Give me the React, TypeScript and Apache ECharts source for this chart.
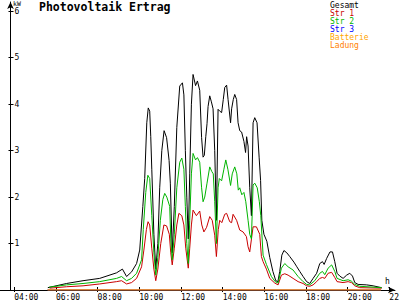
import { useEffect, useRef } from "react";
import * as echarts from "echarts";

const FONT = "DejaVu Sans Mono";

const tickHours = [4, 6, 8, 10, 12, 14, 16, 18, 20, 22];
const yTicks = [1, 2, 3, 4, 5, 6];
const seriesNames = ["Gesamt", "Str 1", "Str 2", "Str 3", "Batterie", "Ladung"];
const seriesColors = ["#000000", "#c80000", "#00b400", "#0000ff", "#ffa500", "#ff8000"];

// [hour of day, kW]
const gesamt: [number, number][] = [
  [5.61, 0.05], [6.51, 0.14], [7.3, 0.2], [8.1, 0.25], [8.91, 0.37], [9.19, 0.45], [9.39, 0.29],
  [9.63, 0.39], [9.87, 0.57], [10.02, 0.86], [10.17, 1.8], [10.26, 2.4], [10.36, 3.6], [10.43, 3.92],
  [10.5, 3.85], [10.55, 3.3], [10.6, 2.6], [10.7, 1.2], [10.79, 0.45], [10.89, 1.0], [10.98, 2.2],
  [11.08, 3.0], [11.19, 3.43], [11.31, 3.28], [11.43, 2.79], [11.49, 2.3], [11.58, 0.8], [11.68, 1.8],
  [11.8, 3.5], [11.94, 4.39], [12.07, 4.46], [12.14, 4.2], [12.21, 3.0], [12.28, 2.0], [12.35, 1.1],
  [12.42, 2.5], [12.5, 4.0], [12.58, 4.64], [12.7, 4.4], [12.79, 4.5], [12.9, 4.3], [12.99, 3.28],
  [13.06, 2.86], [13.12, 2.9], [13.19, 3.3], [13.25, 3.58], [13.3, 3.95], [13.38, 4.18], [13.46, 4.05],
  [13.54, 3.9], [13.62, 3.0], [13.7, 1.5], [13.78, 3.89], [13.86, 3.85], [13.95, 3.82], [14.03, 4.1],
  [14.1, 4.36], [14.19, 4.41], [14.26, 4.1], [14.38, 3.6], [14.43, 3.9], [14.51, 4.1], [14.58, 4.21],
  [14.67, 4.1], [14.74, 3.6], [14.82, 3.43], [14.91, 3.4], [15.02, 3.2], [15.1, 2.96], [15.15, 3.3],
  [15.22, 3.1], [15.3, 2.2], [15.38, 1.6], [15.46, 3.6], [15.54, 3.71], [15.65, 3.6], [15.75, 2.86],
  [15.82, 2.36], [15.88, 1.5], [15.98, 1.2], [16.12, 1.05], [16.26, 0.7], [16.41, 0.4], [16.55, 0.2],
  [16.65, 0.18], [16.74, 0.4], [16.84, 0.75], [16.94, 0.85], [17.08, 0.8], [17.22, 0.72], [17.42, 0.6],
  [17.56, 0.5], [17.7, 0.4], [17.86, 0.29], [18.03, 0.18], [18.18, 0.14], [18.34, 0.25], [18.51, 0.36],
  [18.66, 0.57], [18.79, 0.61], [18.87, 0.55], [18.99, 0.68], [19.15, 0.82], [19.27, 0.82], [19.38, 0.61],
  [19.49, 0.36], [19.62, 0.3], [19.78, 0.25], [19.95, 0.32], [20.1, 0.36], [20.23, 0.3], [20.34, 0.16],
  [20.5, 0.12], [20.91, 0.11], [21.22, 0.09], [21.63, 0.05],
];

const str1: [number, number][] = [
  [5.7, 0.04], [6.51, 0.07], [7.3, 0.09], [8.1, 0.13], [8.91, 0.18], [9.15, 0.2], [9.39, 0.13],
  [9.63, 0.16], [9.87, 0.25], [10.11, 0.5], [10.22, 0.86], [10.34, 1.3], [10.42, 1.47], [10.5, 1.4],
  [10.6, 0.9], [10.7, 0.45], [10.79, 0.2], [10.89, 0.45], [11.03, 1.0], [11.18, 1.4], [11.31, 1.38],
  [11.44, 1.2], [11.51, 0.8], [11.58, 0.54], [11.68, 0.9], [11.8, 1.4], [11.9, 1.65], [12.04, 1.6],
  [12.14, 1.4], [12.23, 0.9], [12.35, 0.47], [12.42, 0.9], [12.5, 1.4], [12.58, 1.72], [12.74, 1.6],
  [12.9, 1.7], [13.0, 1.4], [13.1, 1.25], [13.23, 1.35], [13.38, 1.58], [13.5, 1.5], [13.62, 1.18],
  [13.7, 0.72], [13.79, 1.3], [13.86, 1.5], [13.96, 1.45], [14.1, 1.63], [14.19, 1.65], [14.34, 1.47],
  [14.43, 1.45], [14.5, 1.63], [14.67, 1.5], [14.82, 1.29], [14.98, 1.25], [15.14, 1.15], [15.22, 0.93],
  [15.3, 0.82], [15.46, 1.36], [15.62, 1.36], [15.78, 1.2], [15.86, 0.72], [15.94, 0.61], [16.1, 0.45],
  [16.26, 0.25], [16.5, 0.15], [16.66, 0.11], [16.82, 0.32], [16.98, 0.35], [17.14, 0.32], [17.38, 0.25],
  [17.62, 0.18], [17.86, 0.14], [18.03, 0.09], [18.18, 0.08], [18.34, 0.11], [18.51, 0.18], [18.66, 0.25],
  [18.79, 0.27], [18.9, 0.25], [19.06, 0.36], [19.23, 0.38], [19.38, 0.27], [19.49, 0.18], [19.78, 0.16],
  [20.02, 0.18], [20.18, 0.16], [20.34, 0.09], [20.58, 0.05], [21.63, 0.04],
];

const str2: [number, number][] = [
  [5.67, 0.06], [6.51, 0.11], [7.3, 0.14], [8.1, 0.18], [8.91, 0.25], [9.15, 0.29], [9.39, 0.2],
  [9.63, 0.25], [9.87, 0.36], [10.11, 0.65], [10.19, 1.3], [10.31, 2.1], [10.41, 2.47], [10.5, 2.4],
  [10.6, 1.6], [10.7, 0.8], [10.79, 0.32], [10.89, 0.7], [11.01, 1.5], [11.13, 1.95], [11.22, 2.08],
  [11.32, 2.0], [11.46, 1.8], [11.51, 1.1], [11.58, 0.65], [11.68, 1.2], [11.8, 2.2], [11.94, 2.75],
  [12.04, 2.84], [12.14, 2.6], [12.21, 1.8], [12.28, 1.0], [12.35, 0.57], [12.42, 1.5], [12.5, 2.5],
  [12.58, 2.94], [12.7, 2.8], [12.79, 2.85], [12.9, 2.75], [12.99, 2.2], [13.06, 1.9], [13.14, 2.0],
  [13.25, 2.3], [13.38, 2.65], [13.48, 2.55], [13.55, 2.5], [13.62, 1.9], [13.7, 1.0], [13.78, 2.2],
  [13.84, 2.4], [13.95, 2.35], [14.06, 2.6], [14.15, 2.8], [14.25, 2.6], [14.38, 2.25], [14.46, 2.5],
  [14.58, 2.65], [14.68, 2.5], [14.75, 2.15], [14.82, 2.2], [14.92, 2.05], [15.02, 2.1], [15.11, 1.9],
  [15.22, 1.5], [15.3, 1.2], [15.38, 1.1], [15.46, 2.26], [15.54, 2.3], [15.66, 2.2], [15.76, 1.9],
  [15.83, 1.6], [15.94, 0.75], [16.1, 0.55], [16.34, 0.29], [16.52, 0.18], [16.66, 0.15], [16.82, 0.47],
  [16.98, 0.57], [17.14, 0.5], [17.38, 0.43], [17.62, 0.29], [17.86, 0.18], [18.03, 0.12], [18.18, 0.11],
  [18.42, 0.2], [18.66, 0.36], [18.79, 0.4], [18.9, 0.33], [19.06, 0.47], [19.23, 0.54], [19.38, 0.4],
  [19.49, 0.25], [19.78, 0.2], [20.02, 0.22], [20.18, 0.19], [20.34, 0.12], [20.58, 0.08], [21.63, 0.05],
];

const str3: [number, number][] = [[5.6, 0], [21.6, 0]];
const batterie: [number, number][] = [[5.6, 0], [21.6, 0]];
const ladung: [number, number][] = [[5.6, 0], [21.6, 0]];

const seriesData = [gesamt, str1, str2, str3, batterie, ladung];

const pad = (n: number) => (n < 10 ? "0" + n : "" + n);

export default function App() {
  const ref = useRef<HTMLDivElement>(null);
  useEffect(() => {
    if (!ref.current) return;
    const chart = echarts.init(ref.current, null, { renderer: "svg" });
    const xCommon = {
      type: "value" as const,
      min: 3.82,
      max: 22.27,
      position: "bottom" as const,
      splitLine: { show: false },
    };
    const yCommon = {
      type: "value" as const,
      min: 0,
      max: 6.2,
      position: "left" as const,
      splitLine: { show: false },
    };
    chart.setOption({
      animation: false,
      backgroundColor: "#ffffff",
      title: {
        text: "Photovoltaik Ertrag",
        left: 39,
        top: 1,
        padding: 0,
        textStyle: { fontFamily: FONT, fontSize: 11.5, fontWeight: "bold", color: "#000" },
      },
      legend: {
        orient: "vertical",
        left: 325,
        top: 1,
        padding: 0,
        itemGap: 0,
        itemWidth: 0,
        itemHeight: 8,
        icon: "none",
        selectedMode: false,
        textStyle: { fontFamily: FONT, fontSize: 8, lineHeight: 8, padding: 0 },
        data: seriesNames.map((n, i) => ({ name: n, textStyle: { color: seriesColors[i] } })),
      },
      grid: { left: 10.5, right: 5, top: 2, bottom: 10, containLabel: false, outerBoundsMode: "none" },
      xAxis: [
        {
          ...xCommon,
          axisLine: {
            show: true,
            lineStyle: { color: "#000", width: 1 },
            symbol: ["none", "arrow"],
            symbolSize: [5, 7],
          },
          axisTick: { show: true, customValues: tickHours, length: 2, lineStyle: { color: "#000" } },
          axisLabel: {
            customValues: tickHours,
            formatter: (v: number) => pad(Math.round(v)) + ":00",
            align: "left",
            margin: 3,
            fontFamily: FONT,
            fontSize: 8,
            color: "#000",
            hideOverlap: false,
          },
        },
        {
          ...xCommon,
          axisLine: { show: false },
          axisTick: { show: true, inside: true, customValues: tickHours, length: 3, lineStyle: { color: "#000" } },
          axisLabel: { show: false },
        },
      ],
      yAxis: [
        {
          ...yCommon,
          axisLine: {
            show: true,
            lineStyle: { color: "#000", width: 1 },
            symbol: ["none", "arrow"],
            symbolSize: [5, 7],
          },
          axisTick: { show: true, customValues: yTicks, length: 2, lineStyle: { color: "#000" } },
          axisLabel: {
            customValues: yTicks,
            inside: true,
            margin: 4,
            fontFamily: FONT,
            fontSize: 8,
            color: "#000",
          },
        },
        {
          ...yCommon,
          axisLine: { show: false },
          axisTick: { show: true, inside: true, customValues: yTicks, length: 3, lineStyle: { color: "#000" } },
          axisLabel: { show: false },
        },
      ],
      graphic: [
        { type: "line", shape: { x1: 0, y1: 290.5, x2: 11, y2: 290.5 }, style: { stroke: "#000", lineWidth: 1 } },
        { type: "text", left: 13, top: 0, style: { text: "kW", fontFamily: FONT, fontSize: 6.5, fill: "#000" } },
        { type: "text", left: 385, top: 277, style: { text: "h", fontFamily: FONT, fontSize: 8, fill: "#000" } },
      ],
      series: seriesNames.map((n, i) => ({
        name: n,
        type: "line",
        xAxisIndex: 0,
        yAxisIndex: 0,
        data: seriesData[i],
        showSymbol: false,
        symbol: "none",
        color: seriesColors[i],
        lineStyle: { color: seriesColors[i], width: 1 },
      })),
    });
    return () => chart.dispose();
  }, []);
  return <div ref={ref} style={{ width: 400, height: 300, position: "absolute", left: 0, top: 0 }} />;
}
